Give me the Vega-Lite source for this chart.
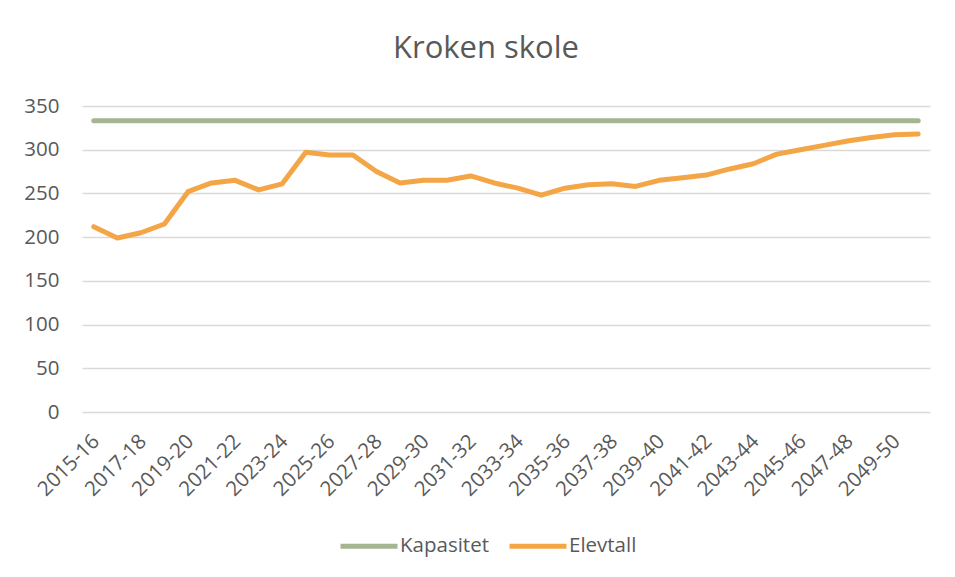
{
  "$schema": "https://vega.github.io/schema/vega-lite/v6.json",
  "width": 848,
  "height": 306,
  "autosize": {"type": "none"},
  "padding": {"left": 82, "top": 106, "right": 25, "bottom": 165},
  "background": "white",
  "title": {"text": "Kroken skole", "fontSize": 31, "font": "Open Sans", "fontWeight": "normal", "color": "#595959", "frame": "group", "anchor": "middle", "dx": -20, "offset": 31},
  "data": {"values": [
    {"aar": "2015-16", "Kapasitet": 333, "Elevtall": 212},
    {"aar": "2016-17", "Kapasitet": 333, "Elevtall": 199},
    {"aar": "2017-18", "Kapasitet": 333, "Elevtall": 205},
    {"aar": "2018-19", "Kapasitet": 333, "Elevtall": 215},
    {"aar": "2019-20", "Kapasitet": 333, "Elevtall": 252},
    {"aar": "2020-21", "Kapasitet": 333, "Elevtall": 262},
    {"aar": "2021-22", "Kapasitet": 333, "Elevtall": 265},
    {"aar": "2022-23", "Kapasitet": 333, "Elevtall": 254},
    {"aar": "2023-24", "Kapasitet": 333, "Elevtall": 261},
    {"aar": "2024-25", "Kapasitet": 333, "Elevtall": 297},
    {"aar": "2025-26", "Kapasitet": 333, "Elevtall": 294},
    {"aar": "2026-27", "Kapasitet": 333, "Elevtall": 294},
    {"aar": "2027-28", "Kapasitet": 333, "Elevtall": 275},
    {"aar": "2028-29", "Kapasitet": 333, "Elevtall": 262},
    {"aar": "2029-30", "Kapasitet": 333, "Elevtall": 265},
    {"aar": "2030-31", "Kapasitet": 333, "Elevtall": 265},
    {"aar": "2031-32", "Kapasitet": 333, "Elevtall": 270},
    {"aar": "2032-33", "Kapasitet": 333, "Elevtall": 262},
    {"aar": "2033-34", "Kapasitet": 333, "Elevtall": 256},
    {"aar": "2034-35", "Kapasitet": 333, "Elevtall": 248},
    {"aar": "2035-36", "Kapasitet": 333, "Elevtall": 256},
    {"aar": "2036-37", "Kapasitet": 333, "Elevtall": 260},
    {"aar": "2037-38", "Kapasitet": 333, "Elevtall": 261},
    {"aar": "2038-39", "Kapasitet": 333, "Elevtall": 258},
    {"aar": "2039-40", "Kapasitet": 333, "Elevtall": 265},
    {"aar": "2040-41", "Kapasitet": 333, "Elevtall": 268},
    {"aar": "2041-42", "Kapasitet": 333, "Elevtall": 271},
    {"aar": "2042-43", "Kapasitet": 333, "Elevtall": 278},
    {"aar": "2043-44", "Kapasitet": 333, "Elevtall": 284},
    {"aar": "2044-45", "Kapasitet": 333, "Elevtall": 295},
    {"aar": "2045-46", "Kapasitet": 333, "Elevtall": 300},
    {"aar": "2046-47", "Kapasitet": 333, "Elevtall": 305},
    {"aar": "2047-48", "Kapasitet": 333, "Elevtall": 310},
    {"aar": "2048-49", "Kapasitet": 333, "Elevtall": 314},
    {"aar": "2049-50", "Kapasitet": 333, "Elevtall": 317},
    {"aar": "2050-51", "Kapasitet": 333, "Elevtall": 318}
  ]},
  "transform": [{"fold": ["Kapasitet", "Elevtall"], "as": ["serie", "verdi"]}],
  "mark": {"type": "line", "strokeWidth": 5, "strokeCap": "round", "strokeJoin": "round"},
  "encoding": {
    "x": {
      "field": "aar", "type": "ordinal", "sort": null,
      "scale": {"type": "point", "padding": 0.5},
      "axis": {
        "title": null,
        "values": ["2015-16", "2017-18", "2019-20", "2021-22", "2023-24", "2025-26", "2027-28", "2029-30", "2031-32", "2033-34", "2035-36", "2037-38", "2039-40", "2041-42", "2043-44", "2045-46", "2047-48", "2049-50"],
        "labelAngle": -45, "labelAlign": "right", "labelBaseline": "middle",
        "labelFontSize": 20.5, "labelColor": "#595959", "labelFont": "Open Sans",
        "labelPadding": 26, "labelOffset": 2, "ticks": false, "domain": false, "grid": false
      }
    },
    "y": {
      "field": "verdi", "type": "quantitative",
      "scale": {"domain": [0, 350], "nice": false},
      "axis": {
        "title": null,
        "values": [0, 50, 100, 150, 200, 250, 300, 350],
        "labelFontSize": 20.5, "labelColor": "#595959", "labelFont": "Open Sans",
        "labelPadding": 23, "ticks": false, "domain": false,
        "grid": true, "gridColor": "#D9D9D9", "gridWidth": 1.5
      }
    },
    "color": {
      "field": "serie", "type": "nominal",
      "scale": {"domain": ["Kapasitet", "Elevtall"], "range": ["#A5B592", "#F4A546"]},
      "legend": {
        "title": null, "orient": "none", "direction": "horizontal",
        "legendX": 256, "legendY": 409,
        "symbolType": "stroke", "symbolSize": 3249, "symbolStrokeWidth": 5,
        "labelFontSize": 20.5, "labelColor": "#595959", "labelFont": "Open Sans",
        "labelOffset": 0, "columnPadding": 10
      }
    }
  },
  "config": {"view": {"stroke": null}}
}
